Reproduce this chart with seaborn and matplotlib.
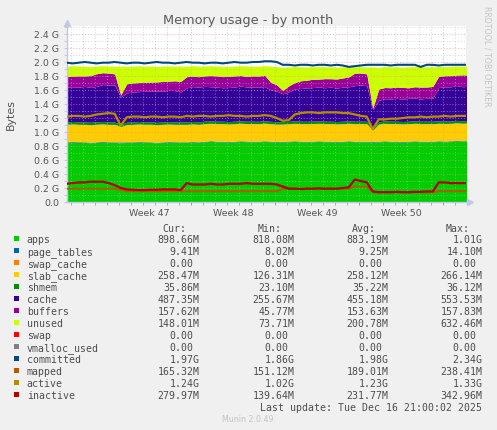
import numpy as np
import matplotlib
matplotlib.use('Agg')
import matplotlib.pyplot as plt
from matplotlib.patches import Rectangle
from matplotlib.ticker import MultipleLocator, FixedLocator, FuncFormatter
import seaborn as sns

# one sample every half day, values in G (1024^3 bytes)
days = np.arange(68) / 2

apps = [
    0.850, 0.855, 0.850, 0.850, 0.845, 0.850, 0.855, 0.850, 0.850, 0.845,
    0.850, 0.850, 0.855, 0.850, 0.850, 0.845, 0.850, 0.855, 0.850, 0.850,
    0.850, 0.855, 0.850, 0.860, 0.865, 0.860, 0.860, 0.855, 0.860, 0.865,
    0.860, 0.860, 0.860, 0.865, 0.860, 0.855, 0.860, 0.860, 0.865, 0.860,
    0.860, 0.860, 0.865, 0.860, 0.860, 0.855, 0.860, 0.865, 0.860, 0.860,
    0.860, 0.855, 0.860, 0.865, 0.860, 0.860, 0.855, 0.860, 0.865, 0.860,
    0.860, 0.860, 0.865, 0.860, 0.865, 0.870, 0.865, 0.870,
]
page_tables = [
    0.009, 0.009, 0.010, 0.009, 0.009, 0.009, 0.010, 0.009, 0.009, 0.013,
    0.009, 0.009, 0.009, 0.010, 0.009, 0.009, 0.009, 0.009, 0.010, 0.009,
    0.009, 0.009, 0.009, 0.009, 0.010, 0.009, 0.009, 0.009, 0.009, 0.009,
    0.010, 0.009, 0.009, 0.009, 0.009, 0.009, 0.009, 0.010, 0.009, 0.009,
    0.009, 0.009, 0.009, 0.009, 0.010, 0.009, 0.009, 0.009, 0.009, 0.009,
    0.009, 0.013, 0.009, 0.009, 0.009, 0.010, 0.009, 0.009, 0.009, 0.009,
    0.009, 0.009, 0.009, 0.010, 0.009, 0.009, 0.009, 0.009,
]
swap_cache = [0.0] * 68
slab_cache = [
    0.250, 0.252, 0.250, 0.251, 0.250, 0.252, 0.251, 0.250, 0.250, 0.220,
    0.248, 0.250, 0.251, 0.250, 0.252, 0.250, 0.251, 0.250, 0.250, 0.251,
    0.250, 0.252, 0.250, 0.251, 0.250, 0.252, 0.250, 0.251, 0.250, 0.252,
    0.250, 0.251, 0.250, 0.252, 0.250, 0.248, 0.245, 0.248, 0.250, 0.251,
    0.250, 0.252, 0.250, 0.251, 0.250, 0.252, 0.250, 0.251, 0.250, 0.252,
    0.250, 0.160, 0.245, 0.250, 0.251, 0.250, 0.252, 0.250, 0.251, 0.250,
    0.252, 0.250, 0.251, 0.252, 0.250, 0.252, 0.251, 0.252,
]
shmem = [
    0.034, 0.035, 0.034, 0.034, 0.035, 0.034, 0.034, 0.035, 0.034, 0.030,
    0.034, 0.035, 0.034, 0.034, 0.035, 0.034, 0.035, 0.034, 0.034, 0.035,
    0.034, 0.035, 0.034, 0.035, 0.034, 0.034, 0.035, 0.034, 0.035, 0.034,
    0.035, 0.034, 0.034, 0.035, 0.034, 0.034, 0.033, 0.034, 0.035, 0.034,
    0.034, 0.035, 0.034, 0.035, 0.034, 0.034, 0.035, 0.034, 0.035, 0.034,
    0.034, 0.025, 0.033, 0.034, 0.035, 0.034, 0.034, 0.035, 0.034, 0.035,
    0.034, 0.035, 0.034, 0.035, 0.034, 0.035, 0.034, 0.035,
]
cache = [
    0.497, 0.487, 0.497, 0.507, 0.497, 0.507, 0.527, 0.527, 0.527, 0.391,
    0.417, 0.427, 0.427, 0.437, 0.437, 0.447, 0.437, 0.447, 0.447, 0.427,
    0.487, 0.497, 0.497, 0.497, 0.487, 0.487, 0.477, 0.487, 0.487, 0.497,
    0.487, 0.487, 0.487, 0.487, 0.447, 0.437, 0.397, 0.417, 0.457, 0.467,
    0.477, 0.477, 0.487, 0.477, 0.487, 0.477, 0.487, 0.487, 0.507, 0.517,
    0.507, 0.266, 0.307, 0.317, 0.317, 0.327, 0.317, 0.327, 0.327, 0.317,
    0.327, 0.327, 0.477, 0.487, 0.487, 0.497, 0.487, 0.487,
]
buffers = [
    0.15, 0.16, 0.16, 0.15, 0.17, 0.18, 0.17, 0.17, 0.16, 0.03,
    0.13, 0.13, 0.13, 0.13, 0.13, 0.13, 0.14, 0.13, 0.14, 0.15,
    0.16, 0.15, 0.15, 0.15, 0.16, 0.16, 0.16, 0.16, 0.16, 0.15,
    0.15, 0.16, 0.16, 0.16, 0.11, 0.09, 0.05, 0.09, 0.09, 0.11,
    0.11, 0.12, 0.11, 0.13, 0.12, 0.13, 0.13, 0.14, 0.18, 0.17,
    0.17, 0.02, 0.16, 0.16, 0.16, 0.16, 0.17, 0.15, 0.16, 0.17,
    0.16, 0.17, 0.16, 0.16, 0.16, 0.15, 0.17, 0.16,
]
unused = [
    0.15, 0.15, 0.14, 0.14, 0.13, 0.11, 0.10, 0.10, 0.11, 0.41,
    0.25, 0.24, 0.24, 0.23, 0.23, 0.22, 0.22, 0.22, 0.21, 0.22,
    0.15, 0.15, 0.15, 0.14, 0.14, 0.14, 0.15, 0.14, 0.14, 0.14,
    0.15, 0.14, 0.14, 0.14, 0.23, 0.26, 0.33, 0.27, 0.23, 0.20,
    0.19, 0.18, 0.18, 0.17, 0.17, 0.17, 0.16, 0.15, 0.09, 0.09,
    0.10, 0.59, 0.31, 0.30, 0.30, 0.29, 0.29, 0.30, 0.29, 0.29,
    0.29, 0.28, 0.14, 0.13, 0.13, 0.13, 0.12, 0.13,
]
swap = [0.0] * 68

committed = [
    1.99, 1.98, 1.99, 2.00, 1.99, 1.98, 1.99, 1.99, 2.00, 1.99,
    1.98, 1.99, 1.99, 1.98, 1.99, 2.00, 1.99, 1.99, 1.98, 1.99,
    2.00, 1.99, 1.99, 1.98, 1.99, 1.99, 1.98, 1.99, 2.00, 1.99,
    1.99, 2.00, 2.00, 2.01, 2.01, 2.00, 1.96, 1.96, 1.95, 1.96,
    1.96, 1.95, 1.96, 1.96, 1.95, 1.96, 1.95, 1.93, 1.94, 1.95,
    1.96, 1.96, 1.96, 1.96, 1.95, 1.96, 1.96, 1.96, 1.96, 1.93,
    1.96, 1.96, 1.95, 1.96, 1.96, 1.96, 1.96, 1.96,
]
mapped = [
    0.19, 0.19, 0.19, 0.19, 0.19, 0.19, 0.19, 0.19, 0.19, 0.17,
    0.155, 0.155, 0.155, 0.155, 0.155, 0.155, 0.155, 0.155, 0.155, 0.155,
    0.155, 0.155, 0.155, 0.155, 0.155, 0.155, 0.155, 0.155, 0.155, 0.155,
    0.155, 0.155, 0.155, 0.155, 0.155, 0.155, 0.19, 0.19, 0.19, 0.19,
    0.19, 0.19, 0.19, 0.19, 0.19, 0.19, 0.19, 0.19, 0.22, 0.22,
    0.22, 0.14, 0.14, 0.14, 0.14, 0.14, 0.14, 0.14, 0.14, 0.14,
    0.14, 0.14, 0.155, 0.155, 0.155, 0.155, 0.155, 0.155,
]
active = [
    1.22, 1.23, 1.23, 1.22, 1.23, 1.25, 1.26, 1.27, 1.26, 1.09,
    1.21, 1.22, 1.22, 1.21, 1.22, 1.22, 1.21, 1.22, 1.22, 1.21,
    1.23, 1.22, 1.23, 1.23, 1.22, 1.23, 1.23, 1.24, 1.23, 1.23,
    1.22, 1.23, 1.23, 1.24, 1.23, 1.20, 1.16, 1.17, 1.25, 1.27,
    1.28, 1.28, 1.27, 1.28, 1.28, 1.28, 1.27, 1.27, 1.25, 1.23,
    1.22, 1.04, 1.18, 1.18, 1.19, 1.19, 1.20, 1.21, 1.21, 1.22,
    1.21, 1.22, 1.22, 1.23, 1.22, 1.23, 1.23, 1.23,
]
inactive = [
    0.26, 0.27, 0.28, 0.28, 0.29, 0.29, 0.29, 0.27, 0.24, 0.20,
    0.18, 0.175, 0.17, 0.17, 0.175, 0.175, 0.18, 0.18, 0.18, 0.17,
    0.27, 0.25, 0.25, 0.25, 0.26, 0.25, 0.25, 0.26, 0.26, 0.26,
    0.27, 0.26, 0.26, 0.26, 0.26, 0.25, 0.22, 0.19, 0.19, 0.185,
    0.19, 0.19, 0.195, 0.19, 0.19, 0.19, 0.20, 0.21, 0.32, 0.30,
    0.28, 0.15, 0.14, 0.14, 0.14, 0.145, 0.14, 0.14, 0.145, 0.145,
    0.15, 0.15, 0.28, 0.28, 0.27, 0.27, 0.27, 0.27,
]

first_monday = 3.38
week_labels = ['Week 47', 'Week 48', 'Week 49', 'Week 50']

names = ['apps', 'page_tables', 'swap_cache', 'slab_cache', 'shmem', 'cache',
         'buffers', 'unused', 'swap', 'vmalloc_used', 'committed', 'mapped',
         'active', 'inactive']
colors = ['#00CC00', '#0066B3', '#FF8000', '#FFCC00', '#008F00', '#330099',
          '#990099', '#CCFF00', '#FF0000', '#808080', '#00487D', '#B35A00',
          '#B38F00', '#B30000']
cur = ['898.66M', '9.41M', '0.00', '258.47M', '35.86M', '487.35M', '157.62M',
       '148.01M', '0.00', '0.00', '1.97G', '165.32M', '1.24G', '279.97M']
mins = ['818.08M', '8.02M', '0.00', '126.31M', '23.10M', '255.67M', '45.77M',
        '73.71M', '0.00', '0.00', '1.86G', '151.12M', '1.02G', '139.64M']
avgs = ['883.19M', '9.25M', '0.00', '258.12M', '35.22M', '455.18M', '153.63M',
        '200.78M', '0.00', '0.00', '1.98G', '189.01M', '1.23G', '231.77M']
maxs = ['1.01G', '14.10M', '0.00', '266.14M', '36.12M', '553.53M', '157.83M',
        '632.46M', '0.00', '0.00', '2.34G', '238.41M', '1.33G', '342.96M']

W, H = 497, 431
sns.set_theme(style='white')
plt.rcParams['font.family'] = ['DejaVu Sans']
TXT = '#555555'
AXC = '#c4c8e8'


def fx(px):
    return px / W


def fy(py):
    return 1 - py / H


fig = plt.figure(figsize=(W / 100, H / 100), dpi=100, facecolor='#f0f0f0')
ax = fig.add_axes([fx(66.7), fy(203), (466 - 66.7) / W, 176 / H])
ax.set_facecolor('white')

# stacked areas
areas = [apps, page_tables, swap_cache, slab_cache, shmem, cache, buffers, unused, swap]
ax.stackplot(days, *areas, colors=colors[:9], linewidth=0, zorder=1)

# lines
for vals, c, lw in [(committed, colors[10], 1.5), (mapped, colors[11], 1.4),
                    (active, colors[12], 1.6), (inactive, colors[13], 1.6)]:
    sns.lineplot(x=days, y=vals, color=c, linewidth=lw, ax=ax, zorder=3,
                 estimator=None, legend=False)

ax.set_xlim(0, 33.27)
ax.set_ylim(0, 2.514)
ax.set_xlabel('')
ax.set_ylabel('')

week_bounds = [first_monday + 7 * k for k in range(5)]
day_lines = [first_monday - 3 + k for k in range(33)]
ax.xaxis.set_major_locator(FixedLocator(week_bounds))
ax.xaxis.set_minor_locator(FixedLocator(day_lines))
ax.yaxis.set_major_locator(MultipleLocator(0.2))
ax.yaxis.set_minor_locator(MultipleLocator(0.1))
ax.yaxis.set_major_formatter(FuncFormatter(lambda v, p: '0.0' if abs(v) < 1e-9 else f'{v:.1f} G'))

ax.set_axisbelow(False)
ax.grid(which='major', color='#e89090', linestyle=(0, (1, 2)), linewidth=0.7, alpha=0.7)
ax.grid(which='minor', color='#b8b8b8', linestyle=(0, (1, 2)), linewidth=0.7, alpha=0.6)

ax.tick_params(axis='x', which='both', labelbottom=False, bottom=True, length=2, width=0.7)
ax.tick_params(axis='x', which='major', color='#e08080')
ax.tick_params(axis='x', which='minor', color='#b0b0b0')
ax.tick_params(axis='y', which='both', left=True, length=2, width=0.7, color=AXC)
ax.tick_params(axis='y', which='major', labelsize=6.75, labelcolor=TXT, pad=3.3)

for s in ['top', 'right']:
    ax.spines[s].set_visible(False)
for s in ['left', 'bottom']:
    ax.spines[s].set_color(AXC)
    ax.spines[s].set_linewidth(1.0)

ax.plot([0], [1 + 3.5 / 176], marker='^', markersize=5, color=AXC,
        transform=ax.transAxes, clip_on=False)
ax.plot([1 + 4 / 399], [0], marker='>', markersize=5, color=AXC,
        transform=ax.transAxes, clip_on=False)

for k, lab in enumerate(week_labels):
    ax.text(first_monday + 3.5 + 7 * k, -13 / 176, lab, transform=ax.get_xaxis_transform(),
            ha='center', va='baseline', fontsize=6.75, color=TXT)

# titles
fig.text(fx(248), fy(24), 'Memory usage - by month', ha='center', va='baseline',
         fontsize=9.3, color='#5a5a5a')
fig.text(fx(10.5), fy(115), 'Bytes', ha='center', va='center', rotation=90,
         fontsize=7.9, color=TXT)
fig.text(fx(487), fy(56), 'RRDTOOL / TOBI OETIKER', ha='center', va='center',
         rotation=270, fontsize=5.7, color='#c4c4c4')

# legend table
mono = dict(family='DejaVu Sans Mono', fontsize=7.1, color='#4d4d4d', va='baseline')
col_right = [199.3, 294.3, 388.3, 482.3]
for hdr, r in zip(['Cur:', 'Min:', 'Avg:', 'Max:'], col_right):
    fig.text(fx(r - 12.6), fy(231.7), hdr, ha='right', **mono)
for k, name in enumerate(names):
    base = 243 + 12 * k
    fig.add_artist(Rectangle((fx(14), fy(base - 0.7)), 5.4 / W, 5.4 / H,
                             transform=fig.transFigure, color=colors[k], lw=0))
    fig.text(fx(26.7), fy(base), name, ha='left', **mono)
    for vals, r in zip([cur, mins, avgs, maxs], col_right):
        v = vals[k]
        shift = 0 if v[-1].isalpha() else 6.0
        fig.text(fx(r - shift), fy(base), v, ha='right', **mono)

fig.text(fx(482.3), fy(411), 'Last update: Tue Dec 16 21:00:02 2025', ha='right', **mono)
fig.text(fx(248), fy(422.3), 'Munin 2.0.49', ha='center', va='baseline',
         fontsize=5.7, color='#c4c4c4')

fig.savefig('out.png', dpi=100, facecolor=fig.get_facecolor())
